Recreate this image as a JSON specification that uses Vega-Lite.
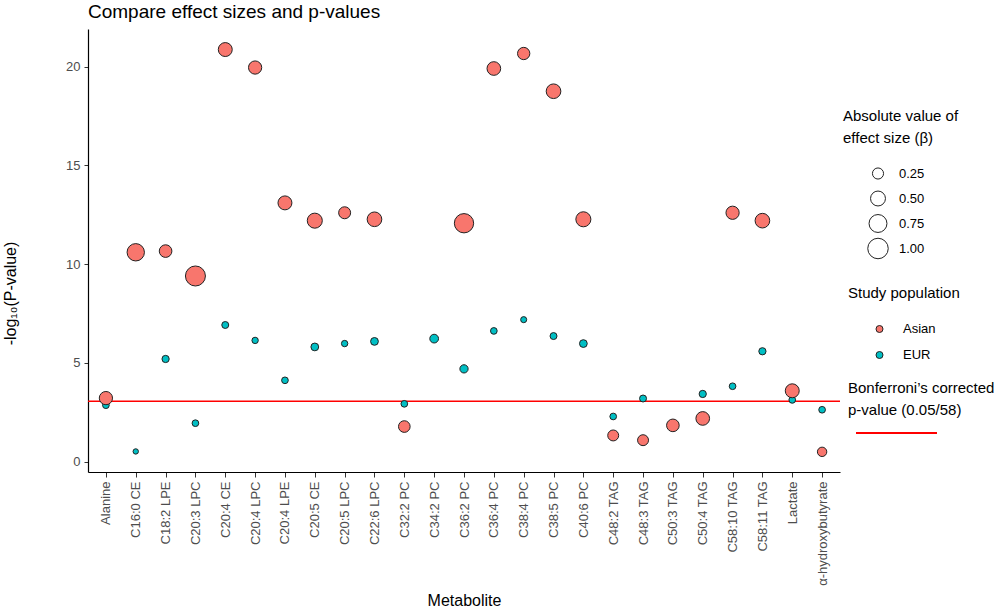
{
  "$schema": "https://vega.github.io/schema/vega-lite/v6.json",
  "width": 752,
  "height": 443,
  "autosize": "none",
  "padding": {"left": 88, "top": 29, "right": 164, "bottom": 137},
  "background": "white",
  "title": {"text": "Compare effect sizes and p-values", "anchor": "start", "frame": "group", "fontSize": 19, "fontWeight": "normal", "color": "black", "offset": 7},
  "datasets": {
    "pts": [
      {"metabolite": "Alanine", "population": "EUR", "logp": 2.86, "beta": 0.05},
      {"metabolite": "C16:0 CE", "population": "EUR", "logp": 0.52, "beta": 0.01},
      {"metabolite": "C18:2 LPE", "population": "EUR", "logp": 5.2, "beta": 0.07},
      {"metabolite": "C20:3 LPC", "population": "EUR", "logp": 1.95, "beta": 0.05},
      {"metabolite": "C20:4 CE", "population": "EUR", "logp": 6.92, "beta": 0.06},
      {"metabolite": "C20:4 LPC", "population": "EUR", "logp": 6.14, "beta": 0.04},
      {"metabolite": "C20:4 LPE", "population": "EUR", "logp": 4.12, "beta": 0.05},
      {"metabolite": "C20:5 CE", "population": "EUR", "logp": 5.81, "beta": 0.09},
      {"metabolite": "C20:5 LPC", "population": "EUR", "logp": 5.98, "beta": 0.04},
      {"metabolite": "C22:6 LPC", "population": "EUR", "logp": 6.09, "beta": 0.09},
      {"metabolite": "C32:2 PC", "population": "EUR", "logp": 2.93, "beta": 0.05},
      {"metabolite": "C34:2 PC", "population": "EUR", "logp": 6.23, "beta": 0.13},
      {"metabolite": "C36:2 PC", "population": "EUR", "logp": 4.7, "beta": 0.11},
      {"metabolite": "C36:4 PC", "population": "EUR", "logp": 6.62, "beta": 0.05},
      {"metabolite": "C38:4 PC", "population": "EUR", "logp": 7.19, "beta": 0.03},
      {"metabolite": "C38:5 PC", "population": "EUR", "logp": 6.36, "beta": 0.06},
      {"metabolite": "C40:6 PC", "population": "EUR", "logp": 5.98, "beta": 0.09},
      {"metabolite": "C48:2 TAG", "population": "EUR", "logp": 2.29, "beta": 0.05},
      {"metabolite": "C48:3 TAG", "population": "EUR", "logp": 3.2, "beta": 0.06},
      {"metabolite": "C50:4 TAG", "population": "EUR", "logp": 3.43, "beta": 0.07},
      {"metabolite": "C58:10 TAG", "population": "EUR", "logp": 3.82, "beta": 0.05},
      {"metabolite": "C58:11 TAG", "population": "EUR", "logp": 5.59, "beta": 0.07},
      {"metabolite": "Lactate", "population": "EUR", "logp": 3.13, "beta": 0.05},
      {"metabolite": "α-hydroxybutyrate", "population": "EUR", "logp": 2.63, "beta": 0.05},
      {"metabolite": "Alanine", "population": "Asian", "logp": 3.22, "beta": 0.38},
      {"metabolite": "C16:0 CE", "population": "Asian", "logp": 10.6, "beta": 0.70},
      {"metabolite": "C18:2 LPE", "population": "Asian", "logp": 10.66, "beta": 0.34},
      {"metabolite": "C20:3 LPC", "population": "Asian", "logp": 9.4, "beta": 0.95},
      {"metabolite": "C20:4 CE", "population": "Asian", "logp": 20.86, "beta": 0.43},
      {"metabolite": "C20:4 LPC", "population": "Asian", "logp": 19.95, "beta": 0.38},
      {"metabolite": "C20:4 LPE", "population": "Asian", "logp": 13.1, "beta": 0.43},
      {"metabolite": "C20:5 CE", "population": "Asian", "logp": 12.2, "beta": 0.51},
      {"metabolite": "C20:5 LPC", "population": "Asian", "logp": 12.6, "beta": 0.30},
      {"metabolite": "C22:6 LPC", "population": "Asian", "logp": 12.27, "beta": 0.48},
      {"metabolite": "C32:2 PC", "population": "Asian", "logp": 1.78, "beta": 0.28},
      {"metabolite": "C36:2 PC", "population": "Asian", "logp": 12.07, "beta": 0.88},
      {"metabolite": "C36:4 PC", "population": "Asian", "logp": 19.9, "beta": 0.41},
      {"metabolite": "C38:4 PC", "population": "Asian", "logp": 20.66, "beta": 0.32},
      {"metabolite": "C38:5 PC", "population": "Asian", "logp": 18.75, "beta": 0.48},
      {"metabolite": "C40:6 PC", "population": "Asian", "logp": 12.27, "beta": 0.51},
      {"metabolite": "C48:2 TAG", "population": "Asian", "logp": 1.33, "beta": 0.24},
      {"metabolite": "C48:3 TAG", "population": "Asian", "logp": 1.09, "beta": 0.24},
      {"metabolite": "C50:3 TAG", "population": "Asian", "logp": 1.84, "beta": 0.34},
      {"metabolite": "C50:4 TAG", "population": "Asian", "logp": 2.19, "beta": 0.41},
      {"metabolite": "C58:10 TAG", "population": "Asian", "logp": 12.6, "beta": 0.38},
      {"metabolite": "C58:11 TAG", "population": "Asian", "logp": 12.2, "beta": 0.48},
      {"metabolite": "Lactate", "population": "Asian", "logp": 3.59, "beta": 0.43},
      {"metabolite": "α-hydroxybutyrate", "population": "Asian", "logp": 0.5, "beta": 0.16}
    ],
    "bonf": [{"threshold": 3.064, "lab": "Bonferroni"}]
  },
  "layer": [
    {
      "data": {"name": "bonf"},
      "mark": {"type": "rule", "strokeWidth": 1.5},
      "encoding": {
        "y": {"field": "threshold", "type": "quantitative"},
        "stroke": {
          "field": "lab", "type": "nominal",
          "scale": {"range": ["#FF0000"]},
          "legend": {
            "title": ["Bonferroni’s corrected", "p-value (0.05/58)"],
            "orient": "none", "legendX": 760, "legendY": 352,
            "titleLineHeight": 22, "titlePadding": 10,
            "symbolType": "stroke", "symbolSize": 6561, "symbolStrokeWidth": 2,
            "symbolOffset": 7, "labelExpr": "''", "clipHeight": 10
          }
        }
      }
    },
    {
      "data": {"name": "pts"},
      "mark": {"type": "point", "filled": true, "stroke": "#222", "strokeWidth": 1, "opacity": 1},
      "encoding": {
        "x": {
          "field": "metabolite", "type": "nominal",
          "scale": {"type": "point", "padding": 0.6, "domain": ["Alanine", "C16:0 CE", "C18:2 LPE", "C20:3 LPC", "C20:4 CE", "C20:4 LPC", "C20:4 LPE", "C20:5 CE", "C20:5 LPC", "C22:6 LPC", "C32:2 PC", "C34:2 PC", "C36:2 PC", "C36:4 PC", "C38:4 PC", "C38:5 PC", "C40:6 PC", "C48:2 TAG", "C48:3 TAG", "C50:3 TAG", "C50:4 TAG", "C58:10 TAG", "C58:11 TAG", "Lactate", "α-hydroxybutyrate"]},
          "axis": {"title": "Metabolite", "labelAngle": 270, "labelAlign": "right", "labelBaseline": "middle", "labelPadding": 4, "labelFontSize": 13, "tickSize": 5, "titleY": 133, "titleBaseline": "alphabetic"}
        },
        "y": {
          "field": "logp", "type": "quantitative",
          "scale": {"domain": [-0.52, 21.9], "nice": false, "zero": false},
          "axis": {"title": "-log₁₀(P-value)", "values": [0, 5, 10, 15, 20], "tickSize": 4, "labelPadding": 4, "labelFontSize": 13, "titleX": -78, "titleY": 264, "titleAngle": 270, "titleAlign": "center", "titleBaseline": "middle"}
        },
        "fill": {
          "field": "population", "type": "nominal",
          "scale": {"domain": ["Asian", "EUR"], "range": ["#F8766D", "#00BFC4"]},
          "legend": {
            "title": "Study population", "orient": "none", "legendX": 760, "legendY": 257,
            "titlePadding": 15, "symbolSize": 49, "symbolOffset": 25, "labelOffset": 17,
            "clipHeight": 26, "rowPadding": 0, "symbolType": "circle",
            "symbolStrokeColor": "#222", "symbolStrokeWidth": 1,
            "encode": {"symbols": {"update": {"stroke": {"value": "#222"}, "strokeWidth": {"value": 1}}}}
          }
        },
        "size": {
          "field": "beta", "type": "quantitative",
          "scale": {"domain": [0, 1], "range": [25, 420]},
          "legend": {
            "title": ["Absolute value of", "effect size (β)"], "orient": "none", "legendX": 755, "legendY": 80,
            "values": [0.25, 0.5, 0.75, 1.0], "format": ".2f",
            "titleLineHeight": 22, "titlePadding": 15,
            "labelOffset": 10, "symbolOffset": 24, "clipHeight": 25, "rowPadding": 0, "symbolType": "circle",
            "symbolFillColor": "transparent", "symbolStrokeColor": "#222", "symbolStrokeWidth": 1,
            "encode": {"symbols": {"enter": {"fill": {"value": "transparent"}}, "update": {"fill": {"value": "transparent"}, "stroke": {"value": "#222"}, "strokeWidth": {"value": 1}}}}
          }
        }
      }
    }
  ],
  "config": {
    "view": {"stroke": null},
    "font": "Liberation Sans",
    "axis": {
      "grid": false, "domainColor": "black", "domainWidth": 1.2, "tickColor": "#333", "tickWidth": 1,
      "labelColor": "#4D4D4D", "labelFontSize": 13, "labelFont": "Liberation Sans",
      "titleFontSize": 16, "titleFontWeight": "normal", "titleColor": "black", "titleFont": "Liberation Sans"
    },
    "legend": {
      "padding": 0, "titleFontSize": 15, "titleFontWeight": "normal", "titleColor": "black", "titleFont": "Liberation Sans",
      "labelFontSize": 13, "labelColor": "black", "labelFont": "Liberation Sans"
    }
  }
}
